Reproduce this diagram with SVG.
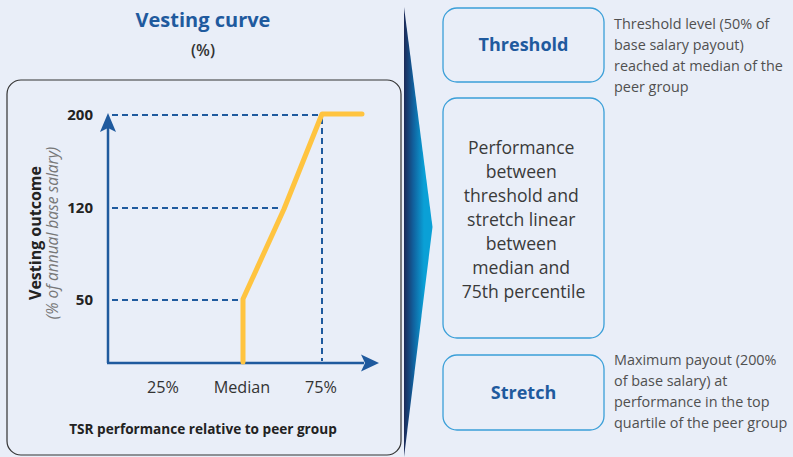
<svg xmlns="http://www.w3.org/2000/svg" width="793" height="457" viewBox="0 0 793 457">
  <style>
    text { font-family: "Open Sans", "Noto Sans", "DejaVu Sans", sans-serif; }
    .title { font-size: 20px; font-weight: bold; fill: #1f5a9e; }
    .sub { font-size: 16px; font-weight: 600; fill: #333333; }
    .ylab { font-size: 15px; font-weight: bold; fill: #222222; }
    .xlab { font-size: 16.2px; fill: #333333; }
    .axt { font-size: 13.6px; font-weight: bold; fill: #222222; }
    .yt { font-size: 16px; font-weight: bold; fill: #222222; }
    .axi { font-size: 15.5px; font-style: italic; fill: #777777; }
    .box { fill: #e9eef8; stroke: #3a9fd8; stroke-width: 1.3; }
    .bt { font-size: 18px; font-weight: bold; fill: #1f5a9e; }
    .pt { font-size: 17.6px; fill: #3a3a3a; }
    .note { font-size: 14.4px; fill: #505050; }
    .dash { stroke: #1f5a9e; stroke-width: 2; stroke-dasharray: 6 4; fill: none; }
    .axis { stroke: #1f5a9e; stroke-width: 2.5; fill: none; }
  </style>
  <defs>
    <linearGradient id="wedge" gradientUnits="userSpaceOnUse" x1="404" y1="0" x2="424" y2="0">
      <stop offset="0" stop-color="#1c2957"/>
      <stop offset="0.45" stop-color="#115f9c"/>
      <stop offset="1" stop-color="#0aa0d6"/>
    </linearGradient>
  </defs>
  <rect width="793" height="457" fill="#e9eef8"/>

  <g id="title">
    <text class="title" x="203" y="27" text-anchor="middle">Vesting curve</text>
    <text class="sub" x="203" y="56" text-anchor="middle">(%)</text>
  </g>

  <g id="chart-frame">
    <rect x="7" y="80" width="394" height="375" rx="14" fill="none" stroke="#333333" stroke-width="1.2"/>
  </g>

  <g id="connectors">
    <line class="dash" x1="112" y1="115" x2="322" y2="115"/>
    <line class="dash" x1="112" y1="208" x2="284" y2="208"/>
    <line class="dash" x1="112" y1="300" x2="243" y2="300"/>
    <line class="dash" x1="322" y1="118" x2="322" y2="361"/>
    <line class="axis" x1="108" y1="363" x2="108" y2="128"/>
    <polygon points="108,113 100,132 108,128 116,132" fill="#1f5a9e"/>
    <line class="axis" x1="107" y1="363" x2="364" y2="363"/>
    <polygon points="379,363 361,354.5 365,363 361,371.5" fill="#1f5a9e"/>
    <polyline points="243,362 243,299 284,209 322,114 362,114" fill="none" stroke="#ffc440" stroke-width="5" stroke-linejoin="round" stroke-linecap="round"/>
  </g>

  <g id="y-labels">
    <text class="ylab" x="93" y="120" text-anchor="end">200</text>
    <text class="ylab" x="93" y="213" text-anchor="end">120</text>
    <text class="ylab" x="93" y="305" text-anchor="end">50</text>
  </g>
  <g id="y-title">
    <text class="yt" transform="translate(41,233) rotate(-90)" text-anchor="middle">Vesting outcome</text>
    <text class="axi" transform="translate(58,233) rotate(-90)" text-anchor="middle">(% of annual base salary)</text>
  </g>
  <g id="x-labels">
    <text class="xlab" x="163" y="393" text-anchor="middle">25%</text>
    <text class="xlab" x="242" y="393" text-anchor="middle">Median</text>
    <text class="xlab" x="321" y="393" text-anchor="middle">75%</text>
    <text class="axt" x="203" y="434" text-anchor="middle">TSR performance relative to peer group</text>
  </g>

  <g id="wedge-arrow">
    <polygon points="404,7 432.5,227 404,457" fill="url(#wedge)"/>
  </g>

  <g id="node-threshold">
    <rect class="box" x="443" y="8" width="161" height="74" rx="14"/>
    <text class="bt" x="523.5" y="51" text-anchor="middle">Threshold</text>
  </g>
  <g id="node-performance">
    <rect class="box" x="443" y="98" width="161" height="240" rx="14"/>
    <text class="pt" text-anchor="middle">
      <tspan x="523.5" y="154">Performance</tspan>
      <tspan x="523.5" y="178">between</tspan>
      <tspan x="523.5" y="202">threshold and</tspan>
      <tspan x="523.5" y="226">stretch linear</tspan>
      <tspan x="523.5" y="250">between</tspan>
      <tspan x="523.5" y="274">median and</tspan>
      <tspan x="523.5" y="298">75th percentile</tspan>
    </text>
  </g>
  <g id="node-stretch">
    <rect class="box" x="443" y="355" width="161" height="75" rx="14"/>
    <text class="bt" x="523.5" y="399" text-anchor="middle">Stretch</text>
  </g>

  <g id="note-threshold">
    <text class="note">
      <tspan x="614" y="29">Threshold level (50% of</tspan>
      <tspan x="614" y="50">base salary payout)</tspan>
      <tspan x="614" y="71">reached at median of the</tspan>
      <tspan x="614" y="92">peer group</tspan>
    </text>
  </g>
  <g id="note-stretch">
    <text class="note">
      <tspan x="614" y="365">Maximum payout (200%</tspan>
      <tspan x="614" y="386">of base salary) at</tspan>
      <tspan x="614" y="407">performance in the top</tspan>
      <tspan x="614" y="428">quartile of the peer group</tspan>
    </text>
  </g>
</svg>
